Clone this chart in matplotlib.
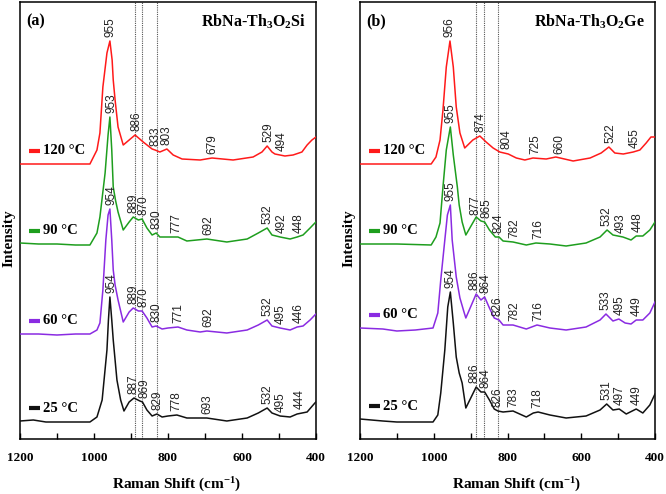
import numpy as np
import matplotlib
matplotlib.use("Agg")
import matplotlib.pyplot as plt

plt.rcParams["font.family"] = ["Liberation Serif", "DejaVu Serif"]
plt.rcParams["mathtext.fontset"] = "custom"
plt.rcParams["mathtext.rm"] = "Liberation Serif:bold"
plt.rcParams["mathtext.bf"] = "Liberation Serif:bold"
plt.rcParams["mathtext.it"] = "Liberation Serif:bold"

# ---- data (Raman shift in cm-1, intensity in arbitrary units above each baseline) ----
temps = ["120 °C", "90 °C", "60 °C", "25 °C"]
colors = ["#ff1a1a", "#1e9e1e", "#8a2be2", "#111111"]

# (a) RbNa-Th3O2Si
si_120_x = [1200, 1150, 1100, 1050, 1011, 992, 984, 976, 965, 957, 951, 948, 943, 935, 921, 905, 889, 867, 843,
            835, 822, 803, 786, 762, 713, 681, 624, 570, 546, 532, 519, 511, 484, 462, 438, 424, 411, 400]
si_120_y = [0, 0, 0, 0, 0, 14, 31, 77, 111, 123, 104, 84, 64, 37, 19, 24, 29, 22, 15,
            14, 12, 15, 9, 5, 4, 6, 4, 7, 12, 18, 12, 10, 8, 9, 12, 19, 24, 27]
si_90_x = [1200, 1150, 1100, 1050, 1011, 992, 984, 970, 962, 957, 952, 948, 942, 935, 921, 905, 894, 880, 870,
           857, 843, 832, 822, 800, 773, 749, 695, 641, 586, 556, 532, 519, 497, 470, 451, 435, 416, 403, 400]
si_90_y = [1, 0, 0, -1, -1, 11, 27, 71, 109, 127, 94, 57, 44, 32, 14, 22, 27, 24, 25,
           16, 9, 11, 7, 7, 7, 3, 5, 2, 5, 11, 16, 9, 7, 5, 7, 9, 16, 21, 22]
si_60_x = [1200, 1150, 1100, 1050, 1011, 992, 984, 976, 968, 962, 957, 952, 948, 943, 935, 921, 905, 894, 880,
           870, 857, 843, 832, 816, 800, 773, 749, 713, 695, 641, 586, 556, 532, 519, 497, 470, 451, 435, 416,
           403, 400]
si_60_y = [0, 0, -1, 0, 0, 4, 11, 44, 94, 119, 125, 94, 64, 49, 34, 12, 22, 26, 23,
           23, 16, 7, 8, 5, 6, 7, 4, 2, 3, 1, 4, 9, 14, 8, 6, 4, 7, 8, 14,
           19, 20]
si_25_x = [1200, 1164, 1130, 1080, 1011, 992, 978, 965, 961, 957, 952, 948, 938, 928, 919, 905, 892, 876, 869,
           857, 843, 830, 816, 800, 776, 749, 695, 641, 586, 556, 532, 519, 497, 470, 451, 424, 403, 400]
si_25_y = [0, 1, -1, -1, -1, 4, 21, 71, 101, 124, 101, 81, 41, 21, 10, 19, 23, 20, 19,
           11, 5, 7, 4, 5, 6, 3, 3, 0, 3, 8, 13, 8, 5, 4, 7, 9, 18, 19]

# (b) RbNa-Th3O2Ge
ge_120_x = [1200, 1100, 1007, 994, 983, 975, 966, 956, 947, 939, 929, 916, 894, 875, 858, 839, 821, 798, 776,
            753, 731, 695, 669, 622, 576, 546, 525, 509, 486, 459, 441, 424, 411, 400]
ge_120_y = [0, 0, 0, 7, 24, 54, 97, 123, 97, 57, 31, 16, 24, 28, 22, 16, 12, 10, 6,
            4, 6, 5, 7, 3, 6, 11, 17, 11, 10, 12, 14, 21, 27, 27]
ge_90_x = [1200, 1100, 1007, 994, 983, 975, 966, 955, 947, 936, 931, 923, 913, 885, 872, 862, 849, 833, 823,
           812, 785, 749, 723, 685, 641, 587, 549, 530, 514, 487, 465, 451, 433, 414, 400]
ge_90_y = [0, 0, -1, 7, 21, 57, 94, 117, 89, 57, 39, 22, 9, 27, 23, 22, 14, 7, 7,
           3, 2, -1, 1, 0, -2, 1, 7, 14, 9, 7, 4, 8, 8, 14, 22]
ge_60_x = [1200, 1138, 1100, 1050, 1002, 989, 981, 970, 963, 955, 950, 939, 929, 918, 913, 885, 872, 862, 849,
           836, 823, 812, 785, 749, 720, 685, 641, 587, 549, 533, 514, 498, 481, 465, 451, 433, 414, 400]
ge_60_y = [0, -1, -3, -2, 0, 15, 48, 88, 113, 123, 88, 51, 30, 16, 10, 34, 28, 31, 20,
           10, 8, 3, 3, -1, 3, 0, -2, 1, 8, 14, 7, 9, 5, 4, 8, 8, 15, 26]
ge_25_x = [1200, 1138, 1100, 1011, 1002, 989, 981, 970, 962, 955, 947, 939, 931, 923, 913, 885, 872, 862, 849,
           836, 826, 812, 785, 749, 730, 717, 685, 641, 587, 549, 531, 514, 497, 478, 451, 433, 414, 400]
ge_25_y = [0, -2, -3, -3, -3, 4, 26, 69, 112, 127, 96, 62, 46, 36, 11, 32, 27, 27, 19,
           10, 8, 7, 8, 2, 6, 7, 4, 1, 3, 9, 15, 9, 10, 5, 10, 6, 14, 25]

# peak labels
si_120_peaks = [955, 886, 833, 803, 679, 529, 494]
si_90_peaks = [953, 889, 870, 830, 777, 692, 532, 492, 448]
si_60_peaks = [954, 889, 870, 830, 771, 692, 532, 495, 446]
si_25_peaks = [954, 887, 869, 829, 778, 693, 532, 495, 444]
ge_120_peaks = [956, 874, 804, 725, 660, 522, 455]
ge_90_peaks = [955, 877, 865, 824, 782, 716, 532, 493, 448]
ge_60_peaks = [955, 886, 864, 826, 782, 716, 533, 495, 449]
ge_25_peaks = [954, 886, 864, 826, 783, 718, 531, 497, 449]

si_guides = [889, 870, 830]
ge_guides = [886, 864, 826]

# vertical stacking of the spectra
si_offsets = [275, 195, 105, 18]
ge_offsets = [275, 195, 111, 20]

panels = [
    ("(a)", r"RbNa-Th$_3$O$_2$Si",
     [(si_120_x, si_120_y, si_120_peaks), (si_90_x, si_90_y, si_90_peaks),
      (si_60_x, si_60_y, si_60_peaks), (si_25_x, si_25_y, si_25_peaks)],
     si_offsets, si_guides),
    ("(b)", r"RbNa-Th$_3$O$_2$Ge",
     [(ge_120_x, ge_120_y, ge_120_peaks), (ge_90_x, ge_90_y, ge_90_peaks),
      (ge_60_x, ge_60_y, ge_60_peaks), (ge_25_x, ge_25_y, ge_25_peaks)],
     ge_offsets, ge_guides),
]


def label_height(x, y, v):
    xs = np.array(x)[::-1]
    ys = np.array(y)[::-1]
    h = np.interp(v, xs, ys)
    near = ys[np.abs(xs - v) <= 6]
    if near.size:
        h = max(h, near.max())
    return h


def spread(peaks, gap=29):
    # nudge neighbouring labels apart so the rotated texts don't collide
    pos = [float(p) for p in peaks]
    for i in range(len(pos) - 1):
        d = pos[i] - pos[i + 1]
        if d < gap:
            pos[i] += (gap - d) / 2
            pos[i + 1] -= (gap - d) / 2
    return pos


fig = plt.figure(figsize=(6.66, 4.94), dpi=100)
ax_rects = [[20 / 666, 55 / 494, 296 / 666, 437 / 494],
            [360 / 666, 55 / 494, 295 / 666, 437 / 494]]

for rect, (tag, title, spectra, offsets, guides) in zip(ax_rects, panels):
    ax = fig.add_axes(rect)
    for g in guides:
        ax.axvline(g, color="#555555", ls=(0, (1, 1)), lw=0.8, zorder=1)
    for (x, y, peaks), off, col, lab in zip(spectra, offsets, colors, temps):
        yy = np.array(y) + off
        ax.plot(x, yy, color=col, lw=1.1, zorder=3)
        for p, px in zip(peaks, spread(peaks)):
            ax.text(px, label_height(x, yy, p) + 4, str(p), rotation=90,
                    ha="center", va="bottom", fontsize=8.5,
                    family="Liberation Sans", color="#222222", zorder=4)
        # legend key for each spectrum
        ax.plot([1176, 1146], [off + 13, off + 13], color=col, lw=3, solid_capstyle="butt")
        ax.text(1138, off + 13, lab, fontsize=10.5, fontweight="bold", ha="left", va="center")

    ax.text(0.02, 0.975, tag, transform=ax.transAxes, fontsize=11.5, fontweight="bold",
            ha="left", va="top")
    ax.text(0.965, 0.975, title, transform=ax.transAxes, fontsize=11.5, fontweight="bold",
            ha="right", va="top")

    ax.set_xlim(1200, 400)
    ax.set_ylim(0, 437)
    ax.set_xticks([1200, 1000, 800, 600, 400])
    ax.set_xticks([1100, 900, 700, 500], minor=True)
    ax.set_yticks([])
    ax.tick_params(axis="x", which="both", direction="in", length=4, width=1, pad=9)
    for lbl in ax.get_xticklabels():
        lbl.set_fontweight("bold")
        lbl.set_fontsize(9.5)
    for s in ax.spines.values():
        s.set_linewidth(1.1)
    ax.set_xlabel(r"Raman Shift (cm$^{-1}$)", fontsize=11, fontweight="bold")
    ax.xaxis.set_label_coords(0.53, -0.085)
    ax.set_ylabel("Intensity", fontsize=11, fontweight="bold")
    ax.yaxis.set_label_coords(-0.014, 0.46)

fig.savefig("out.png", dpi=100)
